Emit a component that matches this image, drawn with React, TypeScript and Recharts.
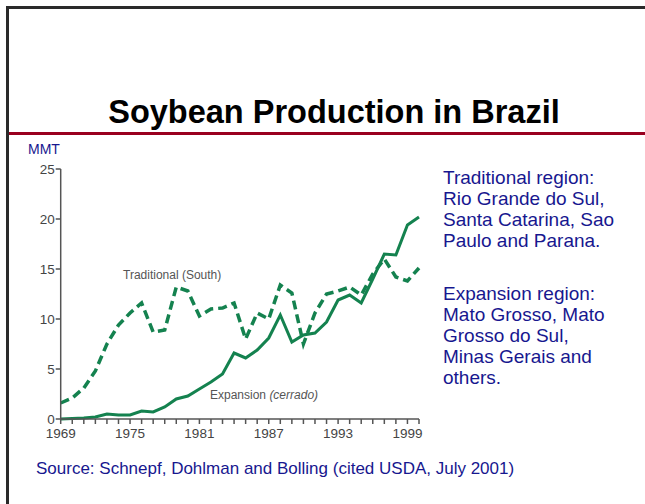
import { LineChart, Line, XAxis, YAxis } from 'recharts';

const years = [
  1969, 1970, 1971, 1972, 1973, 1974, 1975, 1976, 1977, 1978, 1979, 1980, 1981, 1982, 1983, 1984,
  1985, 1986, 1987, 1988, 1989, 1990, 1991, 1992, 1993, 1994, 1995, 1996, 1997, 1998, 1999, 2000,
];
const expansion = [
  0.0, 0.05, 0.1, 0.2, 0.5, 0.4, 0.4, 0.8, 0.7, 1.2, 2.0, 2.3, 3.0, 3.7, 4.5, 6.6,
  6.1, 6.9, 8.1, 10.4, 7.7, 8.4, 8.6, 9.7, 11.9, 12.4, 11.6, 14.0, 16.5, 16.4, 19.4, 20.2,
];
const traditional = [
  1.6, 2.1, 3.1, 4.8, 7.5, 9.4, 10.6, 11.6, 8.7, 8.9, 13.2, 12.8, 10.3, 11.0, 11.1, 11.6,
  8.0, 10.6, 10.0, 13.4, 12.6, 7.5, 10.6, 12.5, 12.8, 13.2, 12.4, 14.5, 16.0, 14.2, 13.8, 15.1,
];
const labeledYears = [1969, 1975, 1981, 1987, 1993, 1999];
const yTicks = [0, 5, 10, 15, 20, 25];

const data = years.map((year, i) => ({ year, expansion: expansion[i], traditional: traditional[i] }));

const FONT = '"Liberation Sans", Arial, sans-serif';
const NAVY = '#17178f';
const GREEN = '#14824f';
const AXIS = '#555';

export default function App() {
  return (
    <div style={{ position: 'fixed', left: 0, top: 0, width: 645, height: 504, background: '#fff', fontFamily: FONT, overflow: 'hidden' }}>
      <style>{'html,body{margin:0;overflow:hidden}'}</style>
      {/* slide frame */}
      <div style={{ position: 'absolute', left: 6, top: 6, width: 700, height: 600, borderTop: '3px solid #2a2a2a', borderLeft: '3px solid #2a2a2a' }} />
      <div style={{ position: 'absolute', left: 9, top: 132, width: 700, height: 3, background: '#99001f' }} />

      <div style={{ position: 'absolute', left: 0, top: 94, width: 668, textAlign: 'center', fontSize: 32.5, lineHeight: '36px', fontWeight: 'bold', color: '#000' }}>
        Soybean Production in Brazil
      </div>

      <div style={{ position: 'absolute', left: 28, top: 141, fontSize: 14, lineHeight: '16px', color: NAVY }}>MMT</div>

      <div style={{ position: 'absolute', left: 0, top: 0 }}>
        <LineChart
          width={645}
          height={504}
          data={data}
          margin={{ top: 169, right: 226, left: 20.7, bottom: 55 }}
        >
          <XAxis
            dataKey="year"
            type="number"
            domain={[1969, 2000]}
            ticks={years}
            interval={0}
            tickFormatter={(v: number) => (labeledYears.includes(v) ? String(v) : '')}
            tickSize={5}
            tickMargin={4}
            height={30}
            stroke={AXIS}
            strokeWidth={1.5}
            tick={{ fontSize: 13.5, fill: '#444', fontFamily: FONT }}
          />
          <XAxis xAxisId="top" dataKey="year" type="number" domain={[1969, 2000]} orientation="top" tick={false} tickLine={false} height={0} stroke="#777" />
          <YAxis
            domain={[0, 25]}
            ticks={yTicks}
            width={40}
            tickSize={5}
            tickMargin={1}
            stroke={AXIS}
            strokeWidth={1.5}
            tick={{ fontSize: 13.5, fill: '#444', fontFamily: FONT }}
          />
          <YAxis yAxisId="right" orientation="right" domain={[0, 25]} tick={false} tickLine={false} width={0} stroke="#777" />
          <Line dataKey="traditional" stroke={GREEN} strokeWidth={3.5} strokeDasharray="9 5" dot={false} isAnimationActive={false} />
          <Line dataKey="expansion" stroke={GREEN} strokeWidth={3} dot={false} isAnimationActive={false} />
        </LineChart>
      </div>

      <div style={{ position: 'absolute', left: 123, top: 268, fontSize: 12, lineHeight: '14px', color: '#555' }}>Traditional (South)</div>
      <div style={{ position: 'absolute', left: 210, top: 388, fontSize: 12, lineHeight: '14px', color: '#555' }}>
        Expansion <i>(cerrado)</i>
      </div>

      <div style={{ position: 'absolute', left: 443, top: 167, fontSize: 19, lineHeight: '21px', color: NAVY }}>
        Traditional region:<br />Rio Grande do Sul,<br />Santa Catarina, Sao<br />Paulo and Parana.
      </div>
      <div style={{ position: 'absolute', left: 443, top: 283, fontSize: 19, lineHeight: '21px', color: NAVY }}>
        Expansion region:<br />Mato Grosso, Mato<br />Grosso do Sul,<br />Minas Gerais and<br />others.
      </div>

      <div style={{ position: 'absolute', left: 36, top: 459, fontSize: 17, lineHeight: '19px', color: NAVY, whiteSpace: 'nowrap' }}>
        Source: Schnepf, Dohlman and Bolling (cited USDA, July 2001)
      </div>
    </div>
  );
}
